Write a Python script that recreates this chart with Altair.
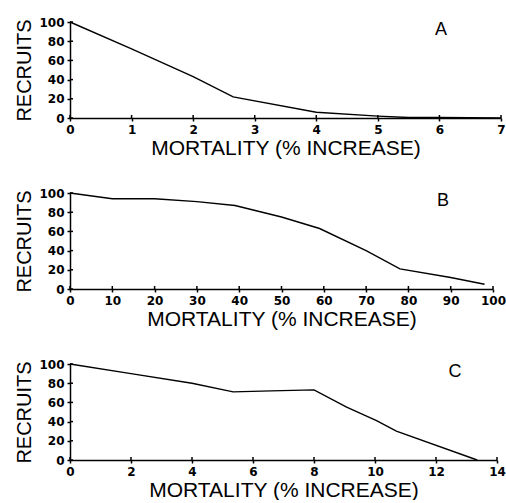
import altair as alt
import pandas as pd

# Panel A
a_mort = [0, 1, 2, 2.65, 4, 5, 5.5, 6, 7]
a_recr = [100, 72, 43, 22, 6, 2, 0.5, 0.5, 0]
a_ticks = [0, 1, 2, 3, 4, 5, 6, 7]

# Panel B
b_mort = [0, 10, 20, 30, 39, 50, 59, 70, 78, 90, 98]
b_recr = [100, 94, 94, 91, 87, 75, 63, 40, 21, 12, 5]
b_ticks = [0, 10, 20, 30, 40, 50, 60, 70, 80, 90, 100]

# Panel C
c_mort = [0, 2, 4, 5.35, 6.6, 8, 9.07, 10.05, 10.7, 13.35]
c_recr = [100, 90, 80, 71, 72, 73, 55, 41, 30, 0]
c_ticks = [0, 2, 4, 6, 8, 10, 12, 14]

y_ticks = [0, 20, 40, 60, 80, 100]

H = 96
FONT = "Liberation Sans"
LABEL_FONT = "DejaVu Sans"


def panel(xs, ys, xmax, xticks, width, letter, letter_x):
    df = pd.DataFrame({"m": xs, "r": ys})
    xscale = alt.Scale(domain=[0, xmax], nice=False, zero=True)
    yscale = alt.Scale(domain=[0, 100], nice=False)
    xaxis = alt.Axis(values=xticks, title="MORTALITY (% INCREASE)", format="d",
                     labelOverlap=False, labelFlush=False)
    yaxis = alt.Axis(values=y_ticks, title="RECRUITS", format="d",
                     labelOverlap=False, labelFlush=False)
    line = alt.Chart(df).mark_line(color="black", strokeWidth=1.4).encode(
        x=alt.X("m:Q", scale=xscale, axis=xaxis),
        y=alt.Y("r:Q", scale=yscale, axis=yaxis))
    xt = alt.Chart(pd.DataFrame({"m": xticks})).mark_rule(
        color="black", strokeWidth=1.5).encode(
        x=alt.X("m:Q", scale=xscale, axis=xaxis), y=alt.value(H), y2=alt.value(H - 3))
    yt = alt.Chart(pd.DataFrame({"r": y_ticks})).mark_rule(
        color="black", strokeWidth=1.5).encode(
        y=alt.Y("r:Q", scale=yscale, axis=yaxis), x=alt.value(0), x2=alt.value(3))
    lab = alt.Chart(pd.DataFrame({"t": [letter]})).mark_text(
        font=FONT, fontSize=18, color="black", align="center", baseline="middle").encode(
        x=alt.value(letter_x), y=alt.value(8), text="t:N")
    return alt.layer(line, xt, yt, lab).properties(width=width, height=H)


chart = alt.vconcat(
    panel(a_mort, a_recr, 7, a_ticks, 431, "A", 371),
    panel(b_mort, b_recr, 100, b_ticks, 423, "B", 373),
    panel(c_mort, c_recr, 14, c_ticks, 427, "C", 385),
    spacing=29,
).properties(
    padding={"left": 14, "top": 16, "right": 0, "bottom": 0},
    background="white",
).configure_view(
    stroke=None
).configure_axis(
    grid=False,
    domainColor="black",
    domainWidth=1.5,
    tickColor="black",
    tickWidth=1.5,
    tickSize=3,
    labelFont=LABEL_FONT,
    labelFontWeight="bold",
    labelFontSize=12,
    labelColor="black",
    labelPadding=3,
    titleFont=FONT,
    titleFontWeight="normal",
    titleColor="black",
).configure_axisX(
    titlePadding=2,
    titleFontSize=21,
).configure_axisY(
    titlePadding=4,
    titleFontSize=20,
)

chart.save("out.html", embed_options={"renderer": "svg", "actions": False})
